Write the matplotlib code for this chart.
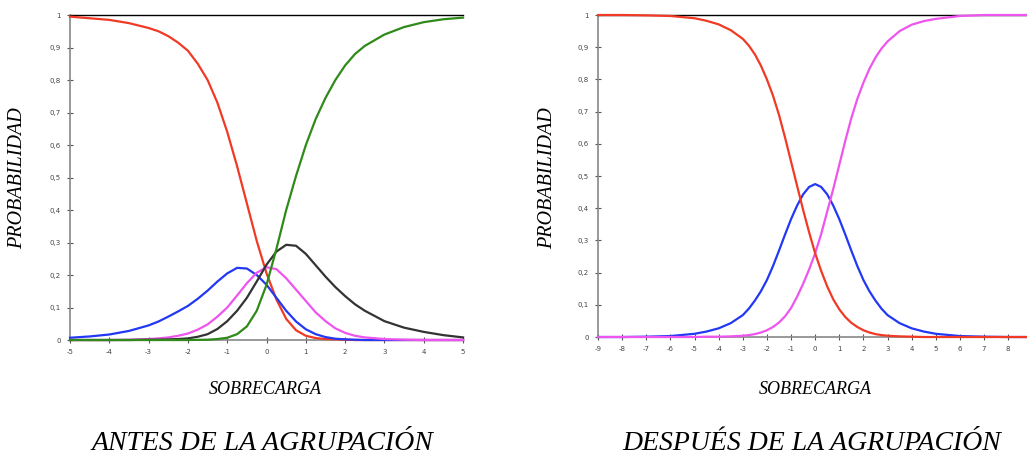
import matplotlib
matplotlib.use('Agg')
import matplotlib.pyplot as plt
from matplotlib.ticker import FuncFormatter

plt.rcParams['axes.unicode_minus'] = False

# ---------------------------------------------------------------
# DATOS - antes de la agrupación (5 categorías)
# ---------------------------------------------------------------
x_antes = [-5, -4.5, -4, -3.5, -3, -2.75, -2.5, -2.25, -2, -1.75, -1.5, -1.25,
           -1, -0.75, -0.5, -0.25, 0, 0.25, 0.5, 0.75, 1, 1.25, 1.5, 1.75, 2,
           2.25, 2.5, 3, 3.5, 4, 4.5, 5]
rojo_antes = [0.995, 0.99, 0.985, 0.975, 0.96, 0.95, 0.935, 0.915, 0.89, 0.85,
              0.80, 0.73, 0.64, 0.535, 0.42, 0.305, 0.205, 0.125, 0.065, 0.03,
              0.013, 0.006, 0.003, 0.002, 0.001, 0, 0, 0, 0, 0, 0, 0]
azul_antes = [0.007, 0.011, 0.017, 0.028, 0.045, 0.057, 0.072, 0.088, 0.105,
              0.127, 0.152, 0.18, 0.205, 0.222, 0.22, 0.2, 0.17, 0.13, 0.09,
              0.057, 0.033, 0.018, 0.009, 0.004, 0.002, 0.001, 0, 0, 0, 0, 0, 0]
magenta_antes = [0, 0, 0, 0.001, 0.003, 0.005, 0.008, 0.013, 0.02, 0.032, 0.048,
                 0.072, 0.10, 0.137, 0.175, 0.207, 0.224, 0.218, 0.19, 0.155,
                 0.12, 0.085, 0.058, 0.036, 0.022, 0.013, 0.008, 0.003, 0.001,
                 0, 0, 0]
negro_antes = [0, 0, 0, 0, 0.001, 0.001, 0.002, 0.003, 0.005, 0.01, 0.018, 0.034,
               0.058, 0.09, 0.13, 0.18, 0.232, 0.272, 0.293, 0.29, 0.265, 0.23,
               0.195, 0.163, 0.135, 0.11, 0.09, 0.058, 0.038, 0.025, 0.015,
               0.008]
verde_antes = [0, 0, 0, 0, 0, 0, 0, 0, 0, 0.0005, 0.001, 0.003, 0.007, 0.018,
               0.042, 0.09, 0.17, 0.28, 0.40, 0.505, 0.60, 0.68, 0.745, 0.80,
               0.845, 0.88, 0.905, 0.94, 0.963, 0.978, 0.987, 0.992]

# ---------------------------------------------------------------
# DATOS - después de la agrupación (3 categorías)
# ---------------------------------------------------------------
x_despues = [-9, -8, -7, -6, -5, -4.5, -4, -3.5, -3, -2.75, -2.5, -2.25, -2,
             -1.75, -1.5, -1.25, -1, -0.75, -0.5, -0.25, 0, 0.25, 0.5, 0.75, 1,
             1.25, 1.5, 1.75, 2, 2.25, 2.5, 2.75, 3, 3.5, 4, 4.5, 5, 6, 7, 8,
             8.78]
rojo_despues = [1.0, 1.0, 0.999, 0.997, 0.99, 0.982, 0.971, 0.953, 0.926, 0.905,
                0.878, 0.843, 0.80, 0.75, 0.69, 0.62, 0.545, 0.47, 0.395, 0.325,
                0.26, 0.205, 0.157, 0.117, 0.086, 0.062, 0.044, 0.031, 0.021,
                0.014, 0.009, 0.006, 0.004, 0.002, 0.001, 0, 0, 0, 0, 0, 0]
azul_despues = [0, 0, 0.001, 0.003, 0.01, 0.017, 0.027, 0.043, 0.068, 0.088,
                0.113, 0.142, 0.177, 0.22, 0.268, 0.318, 0.366, 0.408, 0.443,
                0.466, 0.475, 0.466, 0.443, 0.408, 0.366, 0.318, 0.268, 0.22,
                0.177, 0.142, 0.113, 0.088, 0.068, 0.043, 0.027, 0.017, 0.01,
                0.003, 0.001, 0, 0]
magenta_despues = [0, 0, 0, 0, 0, 0.001, 0.001, 0.002, 0.004, 0.006, 0.009,
                   0.014, 0.021, 0.031, 0.045, 0.064, 0.09, 0.125, 0.165, 0.21,
                   0.26, 0.32, 0.39, 0.46, 0.535, 0.61, 0.68, 0.74, 0.79, 0.833,
                   0.868, 0.896, 0.918, 0.95, 0.97, 0.981, 0.988, 0.997, 1.0,
                   1.0, 1.0]

ticks_antes = list(range(-5, 6))
ticks_despues = list(range(-9, 9))
ticks_y = [0, 0.1, 0.2, 0.3, 0.4, 0.5, 0.6, 0.7, 0.8, 0.9, 1]

# ---------------------------------------------------------------
# ESTILO
# ---------------------------------------------------------------
ROJO = '#f03a25'
AZUL = '#2238f5'
MAGENTA = '#ee55ee'
NEGRO = '#333333'
VERDE = '#2f8a1a'
SERIF = ['Liberation Serif', 'DejaVu Serif']


def coma(v, pos):
    if v == 0:
        return '0'
    if v == 1:
        return '1'
    return f'{v:.1f}'.replace('.', ',')


def preparar(ax, xticks, xlim):
    ax.set_xlim(*xlim)
    ax.set_ylim(0, 1)
    ax.set_xticks(xticks)
    ax.set_yticks(ticks_y)
    ax.yaxis.set_major_formatter(FuncFormatter(coma))
    ax.tick_params(direction='inout', length=5, width=0.8, labelsize=5,
                   labelcolor='#444444', color='#555555', pad=4)
    ax.spines['right'].set_visible(False)
    ax.spines['top'].set_color('black')
    ax.spines['top'].set_linewidth(1.0)
    for lado in ('left', 'bottom'):
        ax.spines[lado].set_color('#888888')
        ax.spines[lado].set_linewidth(1.2)


fig = plt.figure(figsize=(10.27, 4.55), dpi=100)

ax1 = fig.add_axes([0.0682, 0.2527, 0.3827, 0.7143])
preparar(ax1, ticks_antes, (-5, 5))
for serie, color in [(rojo_antes, ROJO), (azul_antes, AZUL),
                     (magenta_antes, MAGENTA), (negro_antes, NEGRO),
                     (verde_antes, VERDE)]:
    ax1.plot(x_antes, serie, color=color, lw=1.6, clip_on=False, zorder=3)

ax2 = fig.add_axes([0.5823, 0.2593, 0.4177, 0.7077])
preparar(ax2, ticks_despues, (-9, 8.78))
for serie, color in [(azul_despues, AZUL), (magenta_despues, MAGENTA),
                     (rojo_despues, ROJO)]:
    ax2.plot(x_despues, serie, color=color, lw=1.6, clip_on=False, zorder=3)

# ---------------------------------------------------------------
# TEXTOS
# ---------------------------------------------------------------
for xp in (18, 548):
    fig.text(xp / 1027, 1 - 178 / 455, 'PROBABILIDAD', rotation=90,
             ha='center', va='center', fontsize=14.5, style='italic',
             family=SERIF)
for xp in (265, 815):
    fig.text(xp / 1027, 1 - 389 / 455, 'SOBRECARGA', ha='center',
             va='center', fontsize=13, style='italic', family=SERIF)
fig.text(262 / 1027, 1 - 444 / 455, 'ANTES DE LA AGRUPACIÓN', ha='center',
         va='center', fontsize=20, style='italic', family=SERIF)
fig.text(812 / 1027, 1 - 444 / 455, 'DESPUÉS DE LA AGRUPACIÓN', ha='center',
         va='center', fontsize=20, style='italic', family=SERIF)

fig.savefig('out.png', dpi=100)
